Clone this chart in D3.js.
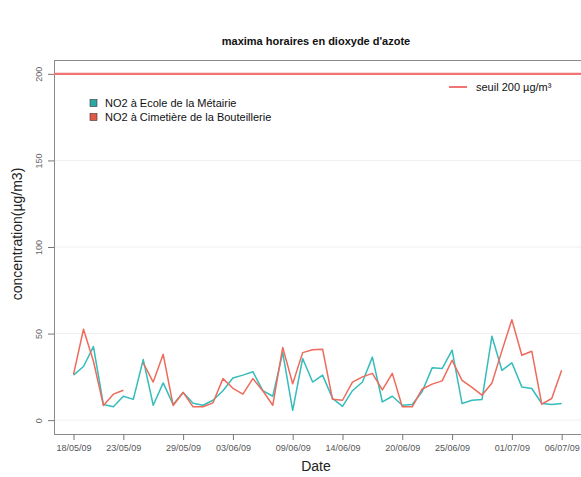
<!DOCTYPE html>
<html>
<head>
<meta charset="utf-8">
<script src="https://cdn.jsdelivr.net/npm/d3@7"></script>
<style>
  body { margin: 0; background: #fff; }
  text { font-family: "Liberation Sans", Arial, sans-serif; }
</style>
</head>
<body>
<div id="chart"></div>
<script>
// data
const startDate = '2009-05-18';
const endDate = '2009-07-06';
const ecoleMetairie = [26, 31, 42.5, 9, 7.7, 13.8, 12, 35, 8.6, 21.5, 9, 16, 9.7, 8.6, 11.5, 17, 24.3, 26, 28, 17,
  13.8, 39, 5.7, 35.6, 22, 26, 12.6, 8, 17, 22, 36.4, 10.5, 13.8, 8.6, 9, 16.5, 30.2, 29.8, 40.4, 9.6,
  11.5, 11.9, 48.5, 28.8, 33.1, 19.2, 18.3, 9.6, 9, 9.6];
const cimetiereBouteillerie = [26.4, 52.5, 34, 8.5, 15, 17.3, null, 33, 22, 38, 8.5, 16, 7.7, 7.7, 10, 24, 18.4, 15, 24, 17,
  8.6, 42, 21, 39, 40.7, 41, 12, 11.5, 22, 25, 27, 17.5, 27, 7.7, 7.7, 18, 20.8, 22.7, 34.6, 23,
  18.9, 14.4, 21.5, 40, 58, 37.5, 39.8, 9.2, 12.5, 28.8];
const seuil = 200;
const xTickLabels = ['18/05/09', '23/05/09', '29/05/09', '03/06/09', '09/06/09', '14/06/09', '20/06/09', '25/06/09', '01/07/09', '06/07/09'];
const yTicks = [0, 50, 100, 150, 200];
const seriesNames = ['NO2 à Ecole de la Métairie', 'NO2 à Cimetière de la Bouteillerie'];
const seriesColors = ['#35bcbc', '#ee6b5c'];

const width = 581, height = 477;
const svg = d3.select('#chart').append('svg')
  .attr('width', width)
  .attr('height', height);

const margin = { top: 60, right: 0, bottom: 43, left: 54 };
const parse = d3.utcParse('%Y-%m-%d');
const parseTick = d3.utcParse('%d/%m/%y');
const dates = d3.utcDay.range(parse(startDate), d3.utcDay.offset(parse(endDate), 1));

const pad = (parse(endDate) - parse(startDate)) * 0.04;
const x = d3.scaleUtc()
  .domain([new Date(+parse(startDate) - pad), new Date(+parse(endDate) + pad)])
  .range([margin.left, width + 0.2]);
const y = d3.scaleLinear()
  .domain([-8, 208])
  .range([height - margin.bottom, margin.top]);

// faint grid
svg.append('g')
  .selectAll('line')
  .data(yTicks.slice(0, 4))
  .enter().append('line')
  .attr('x1', margin.left)
  .attr('x2', width)
  .attr('y1', d => y(d))
  .attr('y2', d => y(d))
  .attr('stroke', '#efefef')
  .attr('stroke-width', 1);

// box
svg.append('rect')
  .attr('x', margin.left + 0.5)
  .attr('y', margin.top + 0.5)
  .attr('width', width - margin.left + 5)
  .attr('height', y(-8) - margin.top)
  .attr('fill', 'none')
  .attr('stroke', '#8a8a8a');

// y axis
const yAxis = svg.append('g')
  .attr('transform', `translate(${margin.left},0)`)
  .call(d3.axisLeft(y).tickValues(yTicks).tickSize(6));
yAxis.select('.domain').remove();
yAxis.selectAll('line').attr('stroke', '#777');
yAxis.selectAll('text')
  .attr('transform', 'rotate(-90)')
  .attr('x', 0)
  .attr('y', -12)
  .attr('dy', 0)
  .attr('text-anchor', 'middle')
  .attr('fill', '#666')
  .attr('font-size', '9px');

// x axis
const xAxis = svg.append('g')
  .attr('transform', `translate(0,${y(-8)})`)
  .call(d3.axisBottom(x)
    .tickValues(xTickLabels.map(parseTick))
    .tickFormat(d3.utcFormat('%d/%m/%y'))
    .tickSize(6)
    .tickPadding(5));
xAxis.select('.domain').remove();
xAxis.selectAll('line').attr('stroke', '#777');
xAxis.selectAll('text')
  .attr('fill', '#555')
  .attr('font-size', '9px');

// threshold
svg.append('line')
  .attr('x1', margin.left)
  .attr('x2', width)
  .attr('y1', y(seuil))
  .attr('y2', y(seuil))
  .attr('stroke', '#f07474')
  .attr('stroke-width', 2.2);

const line = d3.line()
  .defined(d => d.v !== null)
  .x(d => x(d.date))
  .y(d => y(d.v));

[ecoleMetairie, cimetiereBouteillerie].forEach((vals, i) => {
  svg.append('path')
    .datum(vals.map((v, j) => ({ date: dates[j], v: v })))
    .attr('fill', 'none')
    .attr('stroke', seriesColors[i])
    .attr('stroke-width', 1.5)
    .attr('stroke-linejoin', 'round')
    .attr('d', line);
});

// titles
svg.append('text')
  .attr('x', 316)
  .attr('y', 45)
  .attr('text-anchor', 'middle')
  .attr('font-size', '11px')
  .attr('font-weight', 'bold')
  .attr('fill', '#111')
  .text('maxima horaires en dioxyde d\'azote');

svg.append('text')
  .attr('x', 316)
  .attr('y', 471)
  .attr('text-anchor', 'middle')
  .attr('font-size', '14px')
  .attr('fill', '#222')
  .text('Date');

svg.append('text')
  .attr('transform', 'translate(22,234) rotate(-90)')
  .attr('text-anchor', 'middle')
  .attr('font-size', '14px')
  .attr('fill', '#222')
  .text('concentration(µg/m3)');

// legend
const legend = svg.append('g').attr('transform', 'translate(90,103)');
legend.selectAll('rect')
  .data(seriesNames)
  .enter().append('rect')
  .attr('x', 0)
  .attr('y', (d, i) => i * 14 - 3.5)
  .attr('width', 7)
  .attr('height', 7)
  .attr('fill', (d, i) => i === 0 ? '#2aa8a4' : '#e05a45')
  .attr('stroke', '#333')
  .attr('stroke-width', 0.6);
legend.selectAll('text')
  .data(seriesNames)
  .enter().append('text')
  .attr('x', 15)
  .attr('y', (d, i) => i * 14 + 4)
  .attr('font-size', '11px')
  .attr('fill', '#111')
  .text(d => d);

svg.append('line')
  .attr('x1', 449)
  .attr('x2', 467)
  .attr('y1', 87)
  .attr('y2', 87)
  .attr('stroke', '#f07474')
  .attr('stroke-width', 2);
svg.append('text')
  .attr('x', 476)
  .attr('y', 91)
  .attr('font-size', '11px')
  .attr('fill', '#111')
  .text('seuil 200 µg/m³');
</script>
</body>
</html>
